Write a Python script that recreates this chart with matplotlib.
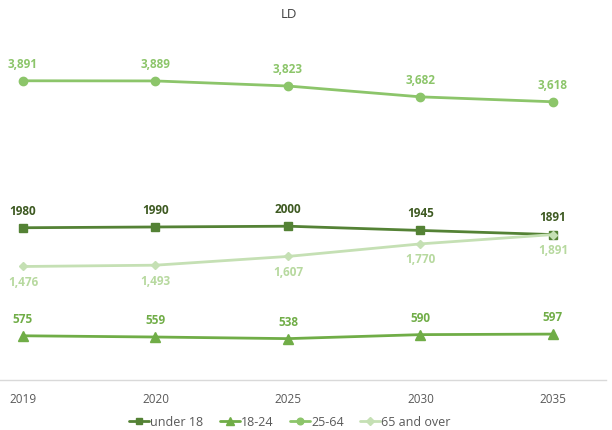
import matplotlib.pyplot as plt
import numpy as np

plt.rcParams['font.family'] = ['Open Sans', 'DejaVu Sans']

years = ['2019', '2020', '2025', '2030', '2035']
under_18 = [1980, 1990, 2000, 1945, 1891]
age_18_24 = [575, 559, 538, 590, 597]
age_25_64 = [3891, 3889, 3823, 3682, 3618]
age_65_over = [1476, 1493, 1607, 1770, 1891]

x = np.arange(len(years))

fig = plt.figure(figsize=(6.12, 4.31), dpi=100)
ax = fig.add_axes([0, 50 / 431, 606 / 612, (381 - 50) / 431])

# pixel layout: first category at 23px, step of 132.5px
step = 132.5
ax.set_xlim(-23 / step, (606 - 23) / step)
ax.set_ylim(0, 331 * 3316 / 255)

series = [
    ('under 18', under_18, '#548235', 's', 6, '#3e5a22', 'above', '{:d}'),
    ('18-24', age_18_24, '#70ad47', '^', 6.5, '#70ad47', 'above', '{:d}'),
    ('25-64', age_25_64, '#8cc56a', 'o', 6, '#8cc56a', 'above', '{:,}'),
    ('65 and over', age_65_over, '#c5e0b4', 'D', 4.5, '#b7d99f', 'below', '{:,}'),
]

for name, vals, color, marker, ms, lcolor, pos, fmt in series:
    ax.plot(x, vals, color=color, lw=2, marker=marker, ms=ms, label=name,
            solid_capstyle='round')
    for xi, v in zip(x, vals):
        if pos == 'above':
            ax.annotate(fmt.format(v), (xi, v), xytext=(0, 8), textcoords='offset points',
                        ha='center', va='bottom', fontsize=8.5, fontweight='bold', color=lcolor)
        else:
            ax.annotate(fmt.format(v), (xi, v), xytext=(0, -6), textcoords='offset points',
                        ha='center', va='top', fontsize=8.5, fontweight='bold', color=lcolor)

ax.set_xticks(x)
ax.set_xticklabels(years, fontsize=8.5, color='#595959')
ax.tick_params(axis='x', length=0, pad=9)
ax.set_yticks([])
for s in ['top', 'right', 'left']:
    ax.spines[s].set_visible(False)
ax.spines['bottom'].set_color('#d9d9d9')
ax.spines['bottom'].set_linewidth(1)

fig.text(289 / 612, 1 - 15 / 431, 'LD', ha='center', va='center', fontsize=9.5, color='#404040')

fig.legend(loc='center', bbox_to_anchor=(290 / 612, 1 - 423 / 431), ncol=4, frameon=False,
           fontsize=9, handlelength=1.6, handletextpad=0.1, columnspacing=1.3,
           labelcolor='#595959', markerscale=0.8)

fig.savefig('out.png', dpi=100)
